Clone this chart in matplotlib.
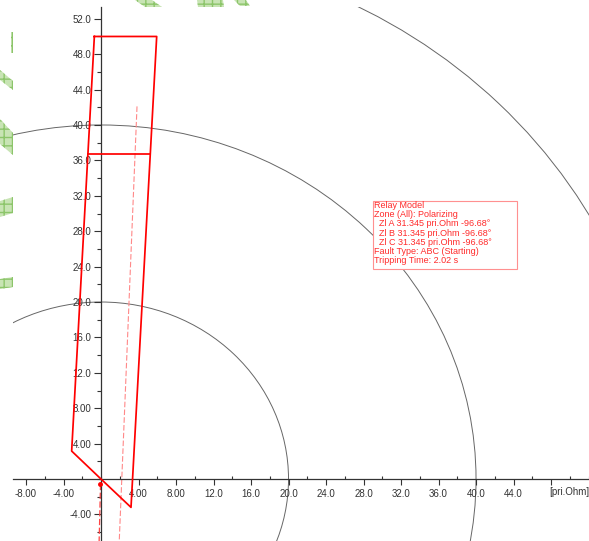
import matplotlib
matplotlib.use("Agg")
import matplotlib.pyplot as plt
from matplotlib.patches import Circle, Rectangle, Polygon
from matplotlib.ticker import FixedLocator, MultipleLocator

plt.rcParams['font.family'] = ['Liberation Sans', 'DejaVu Sans']

# ---- data ----------------------------------------------------------------
# distance zone characteristic (R, X in primary ohms)
zone_r = [-0.71, 5.94, 3.20, 0.0, -3.13, -0.71]
zone_x = [50.0, 50.0, -3.20, 0.0, 3.16, 50.0]
# zone-1 reach boundary
reach_r = [-1.38, 5.25]
reach_x = [36.7, 36.7]
# impedance trajectories
traj1_r = [3.84, 1.95]
traj1_x = [42.1, -6.9]
traj2_r = [-0.05, -0.20]
traj2_x = [-0.55, -7.0]
fault_point = (-0.1, -0.6)
# constant-impedance circles
circle_radii = [20, 40, 60]

x_ticks = [-8, -4, 4, 8, 12, 16, 20, 24, 28, 32, 36, 40, 44, 48]
x_tick_labels = ["-8.00", "-4.00", "4.00", "8.00", "12.0", "16.0", "20.0",
                 "24.0", "28.0", "32.0", "36.0", "40.0", "44.0", ""]
y_ticks = [-4, 4, 8, 12, 16, 20, 24, 28, 32, 36, 40, 44, 48, 52]
y_tick_labels = ["-4.00", "4.00", "8.00", "12.0", "16.0", "20.0", "24.0",
                 "28.0", "32.0", "36.0", "40.0", "44.0", "48.0", "52.0"]
unit_label = "[pri.Ohm]"

info_lines = ["Relay Model",
              "Zone (All): Polarizing",
              "  Zl A 31.345 pri.Ohm -96.68°",
              "  Zl B 31.345 pri.Ohm -96.68°",
              "  Zl C 31.345 pri.Ohm -96.68°",
              "Fault Type: ABC (Starting)",
              "Tripping Time: 2.02 s"]

# ---- figure --------------------------------------------------------------
W, H = 589, 541
fig = plt.figure(figsize=(W / 100, H / 100), dpi=100)
fig.patch.set_facecolor("white")

# hatched green shapes in the margin (pixel coordinates, origin top-left)
green_shapes = [
    [(11, 32), (13, 32), (13, 53), (11, 53)],
    [(0, 70), (13, 81), (13, 90), (0, 80)],
    [(0, 119), (13, 133), (13, 155), (0, 144)],
    [(0, 201), (13, 197), (13, 213), (0, 217)],
    [(0, 279), (13, 277), (13, 287), (0, 289)],
    [(135, 0), (152, 0), (162, 7), (145, 7)],
    [(197, 0), (223, 0), (224, 7), (198, 7)],
    [(234, 0), (246, 0), (250, 6), (240, 6)],
]
for pts in green_shapes:
    fpts = [(px / W, 1 - py / H) for px, py in pts]
    fig.patches.append(Polygon(fpts, closed=True, transform=fig.transFigure,
                               facecolor="#c8e4b4", edgecolor="#8cc56a",
                               hatch="++", lw=0.0, zorder=0))

ax = fig.add_axes([13 / W, 0, 576 / W, 534 / H])
ax.set_facecolor("none")
ax.set_xlim(-9.387, 52.05)
ax.set_ylim(-7.0, 53.33)

for s in ("top", "right"):
    ax.spines[s].set_visible(False)
for s in ("left", "bottom"):
    ax.spines[s].set_position(("data", 0))
    ax.spines[s].set_color("#333333")
    ax.spines[s].set_linewidth(0.9)

ax.xaxis.set_major_locator(FixedLocator(x_ticks))
ax.set_xticklabels(x_tick_labels)
ax.xaxis.set_minor_locator(MultipleLocator(2))
ax.yaxis.set_major_locator(FixedLocator(y_ticks))
ax.set_yticklabels(y_tick_labels)
ax.yaxis.set_minor_locator(MultipleLocator(2))

ax.tick_params(axis="x", which="major", direction="out", length=4.5,
               width=0.8, color="#333333", labelsize=7, labelcolor="#333333", pad=2.5)
ax.tick_params(axis="x", which="minor", direction="in", length=2.5,
               width=0.8, color="#333333")
ax.tick_params(axis="y", which="major", direction="out", length=5,
               width=0.8, color="#333333", labelsize=7, labelcolor="#333333", pad=2)
ax.tick_params(axis="y", which="minor", direction="out", length=3,
               width=0.8, color="#333333")

ax.text(47.8, -0.9, unit_label, fontsize=7, color="#333333",
        ha="left", va="top")

# constant-impedance circles
for r in circle_radii:
    ax.add_patch(Circle((0, 0), r, fill=False, edgecolor="#666666", lw=0.7,
                        zorder=1))

# zone characteristic
ax.plot(zone_r, zone_x, color="#ff0000", lw=1.25, zorder=3)
ax.plot(reach_r, reach_x, color="#ff0000", lw=1.25, zorder=3)

# trajectories
ax.plot(traj1_r, traj1_x, color="#ff8888", lw=0.8, ls=(0, (5, 2)), zorder=2)
ax.plot(traj2_r, traj2_x, color="#ff4444", lw=0.9, ls=(0, (5, 2)), zorder=2)
ax.plot(*fault_point, "o", color="#ff0000", ms=2.5, zorder=4)

# info box
box_r0, box_r1 = 29.01, 44.37
box_x0, box_x1 = 23.73, 31.41
ax.add_patch(Rectangle((box_r0, box_x0), box_r1 - box_r0, box_x1 - box_x0,
                       facecolor="white", edgecolor="#ff9090", lw=0.8, zorder=5))
line_step = 9.1 / 8.85
first_x = (479 - 205.7) / 8.85
for i, line in enumerate(info_lines):
    ax.text(box_r0 + 0.1, first_x - i * line_step, line, fontsize=6.5,
            color="#ff2a2a", ha="left", va="center", zorder=6)

fig.savefig("out.png", dpi=100)
